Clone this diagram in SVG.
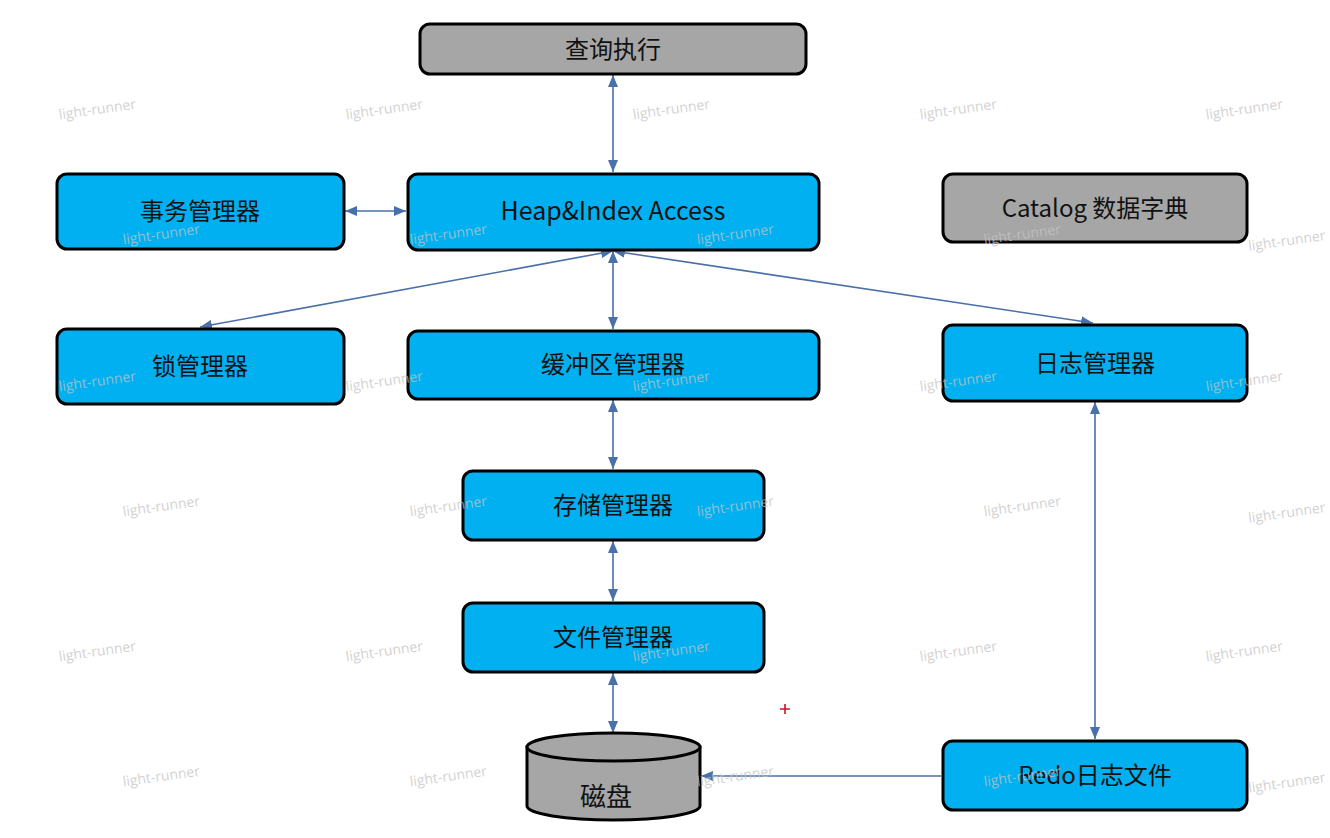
<svg xmlns="http://www.w3.org/2000/svg" width="1330" height="838" viewBox="0 0 1330 838">
<style>
.box{stroke:#000;stroke-width:3}
.blue{fill:#00b0f0}
.gray{fill:#a6a6a6}
.lbl{font-family:"Noto Sans CJK SC","Noto Sans",sans-serif;font-size:24px;fill:#111;text-anchor:middle;dominant-baseline:central}
.conn{stroke:#4a70aa;stroke-width:1.6;fill:none}
.wm{font-family:"Open Sans","Noto Sans",sans-serif;font-size:14px;fill:#c4c4c4;opacity:0.75;text-anchor:middle}
.wme{text-anchor:end}
</style>
<defs>
<marker id="ah" viewBox="0 0 12 10" refX="12" refY="5" markerWidth="12" markerHeight="10" markerUnits="userSpaceOnUse" orient="auto-start-reverse">
<path d="M0,0 L12,5 L0,10 z" fill="#4a70aa"/>
</marker>
</defs>
<rect width="1330" height="838" fill="#fff"/>
<g id="connectors">
<line class="conn" x1="613" y1="75" x2="613" y2="172" marker-start="url(#ah)" marker-end="url(#ah)"/>
<line class="conn" x1="345" y1="211" x2="406" y2="211" marker-start="url(#ah)" marker-end="url(#ah)"/>
<line class="conn" x1="613" y1="251" x2="200" y2="327" marker-start="url(#ah)" marker-end="url(#ah)"/>
<line class="conn" x1="613" y1="251" x2="613" y2="329" marker-start="url(#ah)" marker-end="url(#ah)"/>
<line class="conn" x1="613" y1="251" x2="1093" y2="323" marker-start="url(#ah)" marker-end="url(#ah)"/>
<line class="conn" x1="613" y1="400" x2="613" y2="469" marker-start="url(#ah)" marker-end="url(#ah)"/>
<line class="conn" x1="613" y1="541" x2="613" y2="601" marker-start="url(#ah)" marker-end="url(#ah)"/>
<line class="conn" x1="613" y1="673" x2="613" y2="733" marker-start="url(#ah)" marker-end="url(#ah)"/>
<line class="conn" x1="1095" y1="402" x2="1095" y2="739" marker-start="url(#ah)" marker-end="url(#ah)"/>
<line class="conn" x1="941" y1="776" x2="701" y2="776" marker-end="url(#ah)"/>
</g>
<g id="n-query"><rect class="box gray" x="420" y="24" width="386" height="50" rx="10"/><text class="lbl" x="613" y="47">查询执行</text></g>
<g id="n-heap"><rect class="box blue" x="408" y="174" width="411" height="76" rx="10"/><text class="lbl" x="613" y="209" style="font-size:25px">Heap&amp;Index Access</text></g>
<g id="n-txn"><rect class="box blue" x="57" y="174" width="287" height="75" rx="10"/><text class="lbl" x="200" y="209">事务管理器</text></g>
<g id="n-catalog"><rect class="box gray" x="943" y="174" width="304" height="68" rx="10"/><text class="lbl" x="1095" y="206">Catalog 数据字典</text></g>
<g id="n-lock"><rect class="box blue" x="57" y="329" width="287" height="75" rx="10"/><text class="lbl" x="200" y="364">锁管理器</text></g>
<g id="n-buffer"><rect class="box blue" x="408" y="331" width="411" height="68" rx="10"/><text class="lbl" x="613" y="362">缓冲区管理器</text></g>
<g id="n-log"><rect class="box blue" x="943" y="325" width="304" height="76" rx="10"/><text class="lbl" x="1095" y="361">日志管理器</text></g>
<g id="n-storage"><rect class="box blue" x="463" y="471" width="301" height="69" rx="10"/><text class="lbl" x="613" y="503">存储管理器</text></g>
<g id="n-file"><rect class="box blue" x="463" y="603" width="301" height="69" rx="10"/><text class="lbl" x="613" y="635">文件管理器</text></g>
<g id="n-redo"><rect class="box blue" x="943" y="741" width="304" height="69" rx="10"/><text class="lbl" x="1095" y="773">Redo日志文件</text></g>
<g id="n-disk">
<path class="box gray" d="M527,747 L527,806 A86.5,14 0 0 0 700,806 L700,747 Z"/>
<ellipse class="box gray" cx="613.5" cy="747" rx="86.5" ry="14"/>
<text class="lbl" x="606" y="794" style="font-size:26px">磁盘</text>
</g>
<g id="mark"><path d="M780,709 h10 M785,704 v10" stroke="#d0102a" stroke-width="1.6"/></g>
<g id="watermarks">
<text class="wm" transform="translate(98,114) rotate(-8)">light-runner</text>
<text class="wm" transform="translate(385,114) rotate(-8)">light-runner</text>
<text class="wm" transform="translate(672,114) rotate(-8)">light-runner</text>
<text class="wm" transform="translate(959,114) rotate(-8)">light-runner</text>
<text class="wm" transform="translate(1245,114) rotate(-8)">light-runner</text>
<text class="wm" transform="translate(162,239) rotate(-8)">light-runner</text>
<text class="wm" transform="translate(449,239) rotate(-8)">light-runner</text>
<text class="wm" transform="translate(736,239) rotate(-8)">light-runner</text>
<text class="wm" transform="translate(1023,239) rotate(-8)">light-runner</text>
<text class="wm wme" transform="translate(1326,240) rotate(-8)">light-runner</text>
<text class="wm" transform="translate(98,386) rotate(-8)">light-runner</text>
<text class="wm" transform="translate(385,386) rotate(-8)">light-runner</text>
<text class="wm" transform="translate(672,386) rotate(-8)">light-runner</text>
<text class="wm" transform="translate(959,386) rotate(-8)">light-runner</text>
<text class="wm" transform="translate(1245,386) rotate(-8)">light-runner</text>
<text class="wm" transform="translate(162,511) rotate(-8)">light-runner</text>
<text class="wm" transform="translate(449,511) rotate(-8)">light-runner</text>
<text class="wm" transform="translate(736,511) rotate(-8)">light-runner</text>
<text class="wm" transform="translate(1023,511) rotate(-8)">light-runner</text>
<text class="wm wme" transform="translate(1326,512) rotate(-8)">light-runner</text>
<text class="wm" transform="translate(98,656) rotate(-8)">light-runner</text>
<text class="wm" transform="translate(385,656) rotate(-8)">light-runner</text>
<text class="wm" transform="translate(672,656) rotate(-8)">light-runner</text>
<text class="wm" transform="translate(959,656) rotate(-8)">light-runner</text>
<text class="wm" transform="translate(1245,656) rotate(-8)">light-runner</text>
<text class="wm" transform="translate(162,781) rotate(-8)">light-runner</text>
<text class="wm" transform="translate(449,781) rotate(-8)">light-runner</text>
<text class="wm" transform="translate(736,781) rotate(-8)">light-runner</text>
<text class="wm" transform="translate(1023,781) rotate(-8)">light-runner</text>
<text class="wm wme" transform="translate(1326,782) rotate(-8)">light-runner</text>
</g>
</svg>
